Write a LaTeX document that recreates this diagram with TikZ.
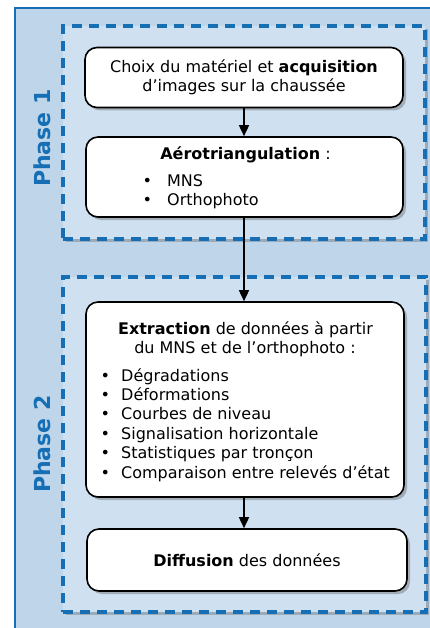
\documentclass[tikz,border=0pt]{standalone}
\usepackage{fontspec}
\setmainfont{DejaVu Sans}
\usetikzlibrary{arrows.meta,shadows}
\definecolor{outerfill}{RGB}{190,213,234}
\definecolor{innerfill}{RGB}{207,224,240}
\definecolor{phaseblue}{RGB}{22,110,180}
\begin{document}
\begin{tikzpicture}[x=1pt,y=-1pt,
  phasebox/.style={shape=rectangle, draw=phaseblue, line width=3.2pt, dash pattern=on 10pt off 7pt,
    fill=innerfill, inner sep=0pt,
    drop shadow={shadow xshift=3pt, shadow yshift=-3pt, opacity=0.3, fill=black!70}},
  stepbox/.style={shape=rectangle, draw=black, line width=1.6pt, rounded corners=12pt, fill=white,
    inner sep=0pt, align=center,
    drop shadow={shadow xshift=3pt, shadow yshift=-3pt, opacity=0.35, fill=black!70}},
  txt/.style={inner sep=0pt, font=\fontsize{16}{19.4}\selectfont},
  phaselabel/.style={rotate=90, inner sep=0pt, text=phaseblue, font=\bfseries\fontsize{22}{26}\selectfont},
  arr/.style={draw=black, line width=1.5pt, -{Triangle[length=11pt,width=10pt]}}]
\path[use as bounding box, clip] (0,0) rectangle (430,628);
\draw[draw=phaseblue, line width=2.5pt, fill=outerfill] (15,8) rectangle (450,650);

\node[phasebox, minimum width=362pt, minimum height=213pt] (p1) at (244,132.5) {};
\node[phasebox, minimum width=363pt, minimum height=335pt] (p2) at (244.5,444.5) {};

\node[phaselabel] (l1) at (42,138) {Phase 1};
\node[phaselabel] (l2) at (42,444) {Phase 2};

\node[stepbox, txt, minimum width=318pt, minimum height=60pt] (b1) at (244,77.5)
  {Choix du matériel et \textbf{acquisition}\\d’images sur la chaussée};
\node[stepbox, minimum width=317pt, minimum height=80pt] (b2) at (244.5,177) {};
\node[stepbox, minimum width=318pt, minimum height=195pt] (b3) at (245,399.5) {};
\node[stepbox, txt, minimum width=320pt, minimum height=62pt] (b4) at (247,560)
  {\textbf{Diffusion} des données};

\node[txt, anchor=base] (t2) at (245.5,160) {\textbf{Aérotriangulation} :};
\node[txt, anchor=base west] (t2a) at (142.3,186.5) {\makebox[24.7pt][l]{•}MNS};
\node[txt, anchor=base west] (t2b) at (142.3,206) {\makebox[24.7pt][l]{•}Orthophoto};

\node[txt, anchor=base] (t3) at (245.5,334) {\textbf{Extraction} de données à partir};
\node[txt, anchor=base] (t3b) at (245,353) {du MNS et de l’orthophoto :};
\node[txt, anchor=base west] (i1) at (100.3,381) {\makebox[20.7pt][l]{•}Dégradations};
\node[txt, anchor=base west] (i2) at (100.3,400.4) {\makebox[20.7pt][l]{•}Déformations};
\node[txt, anchor=base west] (i3) at (100.3,419.8) {\makebox[20.7pt][l]{•}Courbes de niveau};
\node[txt, anchor=base west] (i4) at (100.3,439.2) {\makebox[20.7pt][l]{•}Signalisation horizontale};
\node[txt, anchor=base west] (i5) at (100.3,458.6) {\makebox[20.7pt][l]{•}Statistiques par tronçon};
\node[txt, anchor=base west] (i6) at (100.3,478) {\makebox[20.7pt][l]{•}Comparaison entre relevés d’état};

\draw[arr] (b1.south) -- (b1.south |- b2.north);
\draw[arr] (b1.south |- b2.south) -- (b1.south |- b3.north);
\draw[arr] (b1.south |- b3.south) -- (b1.south |- b4.north);
\end{tikzpicture}
\end{document}
